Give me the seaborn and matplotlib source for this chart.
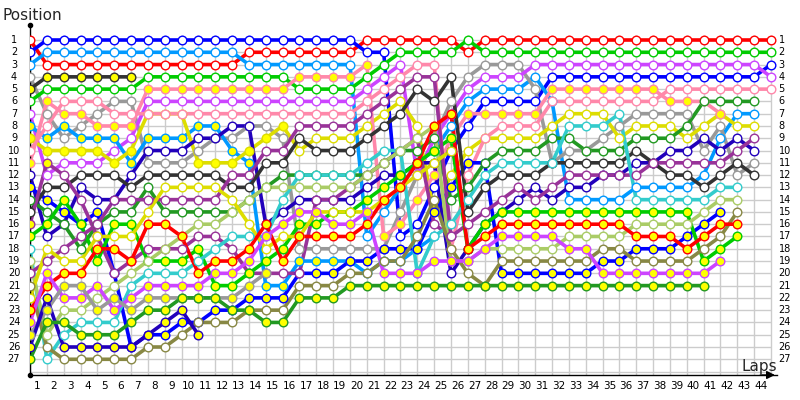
import numpy as np
import pandas as pd
import matplotlib
matplotlib.use("Agg")
import matplotlib.pyplot as plt
import seaborn as sns

N = None
laps = list(range(0, 45))

drivers = ["redA", "blueA", "skyA", "grayA", "blackA", "greenA", "violetA", "skyB", "yellowA",
           "pinkB", "pinkA", "navyA", "blueB", "darkgreenA", "blackB", "purpleA", "greenB",
           "cyan", "lightgreen", "purpleB", "olive", "yellowB", "redB", "violetB", "grayB",
           "navyB", "darkgreenB"]

colors = {"redA": "#ff0000", "redB": "#ff0000", "blueA": "#0000ff", "blueB": "#0000ff",
          "skyA": "#0099ff", "skyB": "#0099ff", "grayA": "#999999", "grayB": "#999999",
          "blackA": "#333333", "blackB": "#333333", "greenA": "#00cc00", "greenB": "#00cc00",
          "violetA": "#cc44ff", "violetB": "#cc44ff", "yellowA": "#dddd00", "yellowB": "#dddd00",
          "pinkA": "#ff88aa", "pinkB": "#ff88aa", "navyA": "#2200bb", "navyB": "#2200bb",
          "darkgreenA": "#229922", "darkgreenB": "#229922", "purpleA": "#993399",
          "purpleB": "#993399", "cyan": "#33cccc", "lightgreen": "#aacc66", "olive": "#888844"}

redA = [1,3,3,3,3,3,3,3,3,3, 3,3,3,2,2,2,2,2,2,2, 1,1,1,1,1,1,2,1,1,1, 1,1,1,1,1,1,1,1,1,1, 1,1,1,1,1]
blueA = [2,1,1,1,1,1,1,1,1,1, 1,1,1,1,1,1,1,1,1,1, 2,2,17,16,13,10,8,6,6,6, 6,4,4,4,4,4,4,4,4,4, 4,4,4,4,3]
skyA = [3,2,2,2,2,2,2,2,2,2, 2,2,2,3,3,3,3,3,3,3, 17,15,13,11,10,8,6,5,5,5, 4,6,14,14,14,14,13,13,13,13, 12,9,7,7,N]
grayA = [4,7,9,8,7,6,6,11,11,11, 10,9,9,8,8,9,18,18,18,18, 18,18,15,12,9,6,4,3,3,3, 5,11,10,10,9,8,7,7,7,7, 10,8,12,11,N]
blackA = [5,4,4,4,4,4,4,N,N,N, N,N,N,N,N,N,N,N,N,N, N,N,N,N,N,N,N,N,N,N, N,N,N,N,N,N,N,N,N,N, N,N,N,N,N]
greenA = [6,5,5,5,5,5,5,4,4,4, 4,4,4,4,4,4,5,5,5,5, 4,3,2,2,2,2,1,2,2,2, 2,2,2,2,2,2,2,2,2,2, 2,2,2,2,2]
violetA = [7,12,11,11,11,10,9,6,6,6, 6,6,6,6,6,6,6,6,6,6, 5,4,3,12,9,7,5,4,4,4, 3,3,3,3,3,3,3,3,3,3, 3,3,3,3,4]
skyB = [8,9,8,9,9,9,11,9,9,9, 8,8,10,11,21,21,19,19,19,19, 20,19,19,18,17,N,N,N,N,N, N,N,N,N,N,N,N,N,N,N, N,N,N,N,N]
yellowA = [9,10,10,10,10,11,10,7,7,7, 11,11,11,10,9,8,10,9,9,9, 8,7,6,8,15,12,10,9,9,9, 9,8,7,7,7,9,8,8,8,9, 8,7,8,8,N]
pinkB = [10,8,6,6,6,7,7,7,7,7, 7,7,7,7,7,7,7,7,7,7, 6,5,4,3,3,18,12,9,8,8, 8,6,6,6,6,6,6,6,5,5, 5,5,5,5,5]
pinkA = [11,6,7,7,8,8,8,5,5,5, 5,5,5,5,5,5,4,4,4,4, 3,17,16,14,12,9,7,7,7,7, 7,5,5,5,5,5,5,5,6,6, 6,7,N,N,N]
navyA = [12,17,16,13,14,14,12,10,10,10, 9,9,8,8,16,15,14,14,14,14, 13,12,12,11,11,20,18,16,15,14, 13,14,13,13,12,12,11,11,10,10, 9,10,9,10,N]
blueB = [13,14,15,16,15,20,26,25,25,24, 24,23,23,22,22,22,20,20,20,19, 19,18,18,18,15,13,11,11,20,20, 20,20,20,20,19,19,18,18,18,17, 16,15,N,N,N]
darkgreenA = [14,15,16,18,16,15,15,13,15,15, 15,15,15,14,13,12,12,12,12,12, 12,11,10,10,9,14,13,11,10,10, 10,9,9,10,10,10,9,9,9,8, 6,6,6,6,N]
blackB = [15,13,13,12,12,12,13,12,12,12, 12,12,13,13,11,11,9,10,10,10, 9,8,7,5,6,4,15,13,12,12, 12,11,11,11,11,11,10,11,12,12, 13,12,11,12,N]
purpleA = [16,11,12,14,17,20,19,18,18,18, 17,17,18,20,20,20,20,14,14,13, 12,11,10,9,16,17,16,15,14,13, 14,13,12,12,12,12,12,11,11,11, 11,11,10,9,N]
greenB = [17,16,14,16,19,16,16,19,19,19, 18,21,21,20,19,18,16,16,15,15, 14,13,12,11,10,9,18,16,15,15, 15,15,15,15,15,15,15,15,15,15, 19,18,17,N,N]
cyan = [18,27,25,24,24,24,21,20,20,20, 19,18,17,17,17,14,12,12,12,12, 11,10,10,20,17,16,14,12,11,11, 11,11,8,8,8,7,14,14,14,14, 14,13,13,N,N]
lightgreen = [19,25,23,23,22,21,20,19,18,17, 16,16,15,14,13,13,13,13,13,13, 12,11,10,9,8,19,19,18,18,18, 18,18,17,17,17,17,16,16,16,16, 15,14,14,N,N]
purpleB = [20,19,18,17,16,14,14,14,14,14, 14,14,12,12,10,10,8,8,8,8, 7,6,5,4,4,17,N,N,N,N, N,N,N,N,N,N,N,N,N,N, N,N,N,N,N]
olive = [21,26,27,27,27,27,27,26,26,25, 24,24,24,23,23,23,21,21,21,20, 20,19,19,17,14,18,20,21,19,19, 19,19,19,19,18,18,19,19,19,19, 18,17,15,N,N]
yellowB = [22,18,19,19,17,17,17,15,13,13, 13,13,14,16,18,17,17,15,15,15, 15,14,13,12,11,10,N,N,N,N, N,N,N,N,N,N,N,N,N,N, N,N,N,N,N]
redB = [23,21,20,20,18,18,19,16,16,17, 20,19,19,18,16,19,17,17,17,17, 16,14,13,11,8,7,18,17,16,16, 16,16,16,16,16,16,17,17,17,18, 17,16,16,N,N]
violetB = [24,20,22,22,21,23,22,21,21,21, 21,20,20,19,17,16,15,15,16,16, 15,20,20,20,19,19,19,18,17,17, 17,17,18,18,20,20,20,20,20,20, 20,19,N,N,N]
grayB = [25,23,21,21,23,22,23,22,22,22, 22,22,22,21,20,N,N,N,N,N, N,N,N,N,N,N,N,N,N,N, N,N,N,N,N,N,N,N,N,N, N,N,N,N,N]
navyB = [26,22,26,26,26,26,26,25,24,23, 25,N,N,N,N,N,N,N,N,N, N,N,N,N,N,N,N,N,N,N, N,N,N,N,N,N,N,N,N,N, N,N,N,N,N]
darkgreenB = [27,24,24,25,25,25,24,23,23,22, 22,22,23,23,24,24,22,22,22,21, 21,21,21,21,21,21,21,21,21,21, 21,21,21,21,21,21,21,21,21,21, 21,N,N,N,N]

# laps (inclusive ranges) on which the marker is filled yellow
yellow_laps = {"blackA": [(0, 44)], "skyB": [(0, 44)], "yellowA": [(0, 15)], "pinkA": [(0, 44)],
               "blueB": [(0, 44)], "greenB": [(0, 44)], "redB": [(0, 44)], "violetB": [(0, 44)],
               "grayB": [(0, 44)], "navyB": [(0, 44)], "darkgreenB": [(0, 44)], "purpleA": [(0, 1)]}

series = {"redA": redA, "blueA": blueA, "skyA": skyA, "grayA": grayA, "blackA": blackA,
          "greenA": greenA, "violetA": violetA, "skyB": skyB, "yellowA": yellowA, "pinkB": pinkB,
          "pinkA": pinkA, "navyA": navyA, "blueB": blueB, "darkgreenA": darkgreenA,
          "blackB": blackB, "purpleA": purpleA, "greenB": greenB, "cyan": cyan,
          "lightgreen": lightgreen, "purpleB": purpleB, "olive": olive, "yellowB": yellowB,
          "redB": redB, "violetB": violetB, "grayB": grayB, "navyB": navyB,
          "darkgreenB": darkgreenB}

rows = []
for d in drivers:
    for lap, pos in zip(laps, series[d]):
        if pos is None:
            continue
        yl = any(a <= lap <= b for a, b in yellow_laps.get(d, []))
        rows.append({"driver": d, "lap": lap, "pos": pos, "yellow": yl})
df = pd.DataFrame(rows)

sns.set_theme(style="white")
plt.rcParams["font.family"] = ["DejaVu Sans"]

W, H = 800, 400
fig = plt.figure(figsize=(8, 4), dpi=100)
px_lap = 16.84
px_pos = 12.28
ax_l, ax_r, ax_t, ax_b = 30, 777, 25, 375
ax = fig.add_axes([ax_l / W, 1 - ax_b / H, (ax_r - ax_l) / W, (ax_b - ax_t) / H])
ax.set_xlim(0, (ax_r - ax_l) / px_lap)
top_pos = 1 - (40 - ax_t) / px_pos
bot_pos = 1 + (ax_b - 40) / px_pos
ax.set_ylim(bot_pos, top_pos)
ax.set_facecolor("white")

positions = list(range(1, 28))
grid_c = "#cccccc"
ax.vlines(laps, 0.6, bot_pos, color=grid_c, lw=1, zorder=0)
ax.hlines(positions + [28], 0, 44, color=grid_c, lw=1, zorder=0)

for d in drivers:
    sub = df[df.driver == d]
    c = colors[d]
    sns.lineplot(data=sub, x="lap", y="pos", color=c, lw=2.6, sort=False, estimator=None, ax=ax,
                 legend=False, zorder=2)
    for yl, fc in [(False, "white"), (True, "#ffff00")]:
        s = sub[sub.yellow == yl]
        if len(s):
            ax.plot(s.lap, s.pos, ls="none", marker="o", ms=6.2, mfc=fc, mec=c, mew=1.0, zorder=3)

for sp in ["top", "right"]:
    ax.spines[sp].set_visible(False)
ax.spines["left"].set_color("black")
ax.spines["bottom"].set_color("black")
ax.spines["left"].set_linewidth(1)
ax.spines["bottom"].set_linewidth(1)
ax.set_xticks([])
ax.set_yticks([])
ax.set_xlabel("")
ax.set_ylabel("")

for p in positions:
    ax.text(-16 / px_lap, p, str(p), ha="center", va="center", fontsize=7, color="black")
    ax.text(44.45, p, str(p), ha="left", va="center", fontsize=7, color="black")
for lap in laps[1:]:
    ax.text(lap - 0.6, bot_pos + 11 / px_pos, str(lap), ha="center", va="center", fontsize=7.5,
            color="black", clip_on=False)
ax.text(-28 / px_lap, top_pos - 10 / px_pos, "Position", ha="left", va="center", fontsize=11)
ax.text(42.25, 27.55, "Laps", ha="left", va="center", fontsize=11)
ax.plot([0], [top_pos], marker="o", ms=3, color="black", clip_on=False, zorder=5)
ax.plot([0], [bot_pos], marker="o", ms=3, color="black", clip_on=False, zorder=5)
ax.annotate("", xy=(44.4, bot_pos), xytext=(43.2, bot_pos),
            arrowprops=dict(arrowstyle="-|>", color="black", lw=1), annotation_clip=False)

fig.savefig("out.png", dpi=100)
